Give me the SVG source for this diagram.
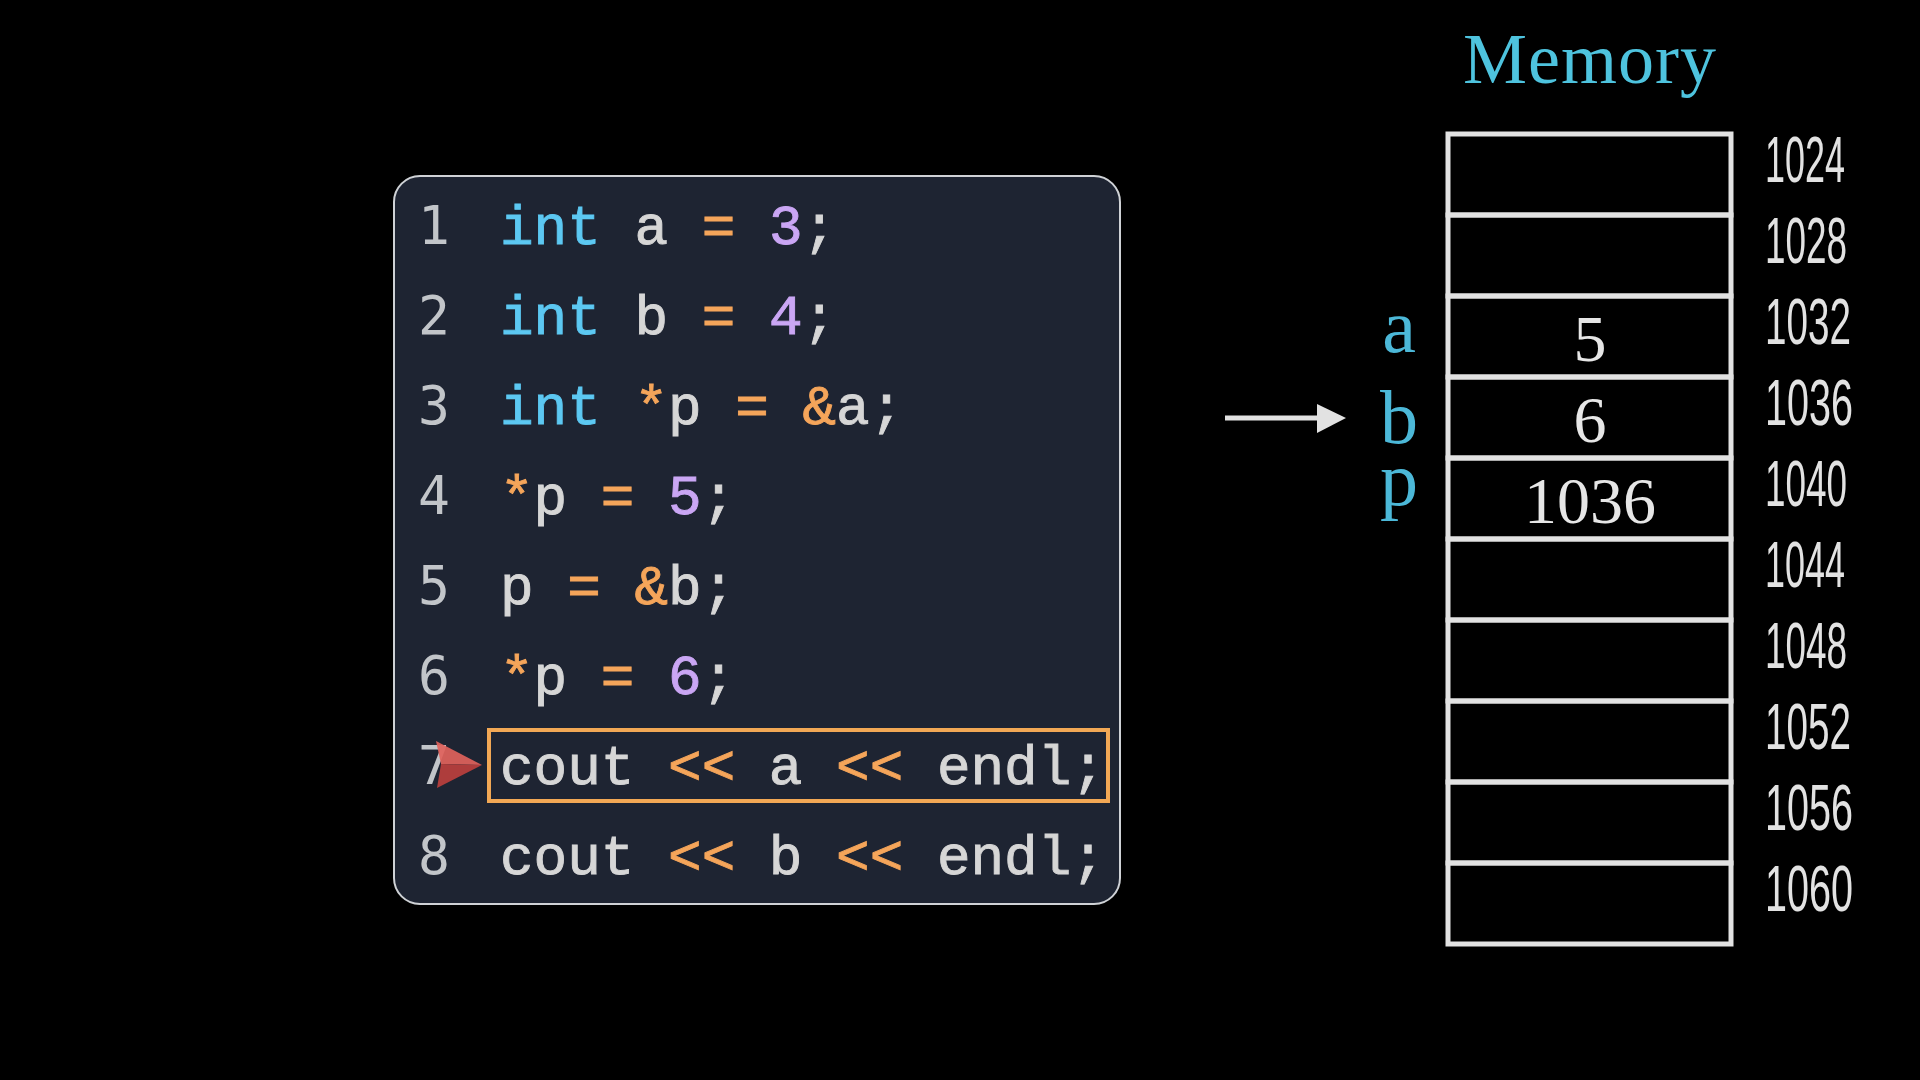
<svg xmlns="http://www.w3.org/2000/svg" width="1920" height="1080" viewBox="0 0 1920 1080">
<defs>
<style>
.num{font-family:"DejaVu Sans Mono","Liberation Mono",monospace;font-size:53px;fill:#c2c5c9;text-anchor:middle}
.code{font-family:"Liberation Mono","DejaVu Sans Mono",monospace;font-size:56px;fill:#d6d6d6;stroke:#d6d6d6;stroke-width:0.9}
.kw{fill:#5cc8f2;stroke:#5cc8f2}
.op{fill:#f5a55a;stroke:#f5a55a}
.lit{fill:#caa6f4;stroke:#caa6f4}
.cell{fill:none;stroke:#e2e2e2;stroke-width:5}
.val{font-family:"Liberation Serif","DejaVu Serif",serif;font-size:66px;fill:#e6e6e6;text-anchor:middle}
.var{font-family:"Liberation Serif","DejaVu Serif",serif;font-size:76px;fill:#4cb8d8;text-anchor:middle}
.addr{font-family:"Liberation Sans","DejaVu Sans",sans-serif;font-size:65px;fill:#e2e2e2}
</style>
</defs>
<rect width="1920" height="1080" fill="#000"/>

<g id="code-panel">
<rect x="394" y="176" width="726" height="728" rx="26" ry="26" fill="#1e2432" stroke="#cfd2d6" stroke-width="2"/>
<text class="num" x="434" y="244">1</text>
<text class="num" x="434" y="334">2</text>
<text class="num" x="434" y="424">3</text>
<text class="num" x="434" y="514">4</text>
<text class="num" x="434" y="604">5</text>
<text class="num" x="434" y="694">6</text>
<text class="num" x="434" y="784">7</text>
<text class="num" x="434" y="874">8</text>

<text class="code" x="500" y="244" xml:space="preserve"><tspan class="kw">int</tspan> a <tspan class="op">=</tspan> <tspan class="lit">3</tspan>;</text>
<text class="code" x="500" y="334" xml:space="preserve"><tspan class="kw">int</tspan> b <tspan class="op">=</tspan> <tspan class="lit">4</tspan>;</text>
<text class="code" x="500" y="424" xml:space="preserve"><tspan class="kw">int</tspan> <tspan class="op">*</tspan>p <tspan class="op">=</tspan> <tspan class="op">&amp;</tspan>a;</text>
<text class="code" x="500" y="514" xml:space="preserve"><tspan class="op">*</tspan>p <tspan class="op">=</tspan> <tspan class="lit">5</tspan>;</text>
<text class="code" x="500" y="604" xml:space="preserve">p <tspan class="op">=</tspan> <tspan class="op">&amp;</tspan>b;</text>
<text class="code" x="500" y="694" xml:space="preserve"><tspan class="op">*</tspan>p <tspan class="op">=</tspan> <tspan class="lit">6</tspan>;</text>
<text class="code" x="500" y="784" xml:space="preserve">cout <tspan class="op">&lt;&lt;</tspan> a <tspan class="op">&lt;&lt;</tspan> endl;</text>
<text class="code" x="500" y="874" xml:space="preserve">cout <tspan class="op">&lt;&lt;</tspan> b <tspan class="op">&lt;&lt;</tspan> endl;</text>

<rect id="current-line" x="489" y="730" width="619" height="71" fill="none" stroke="#f2a855" stroke-width="4"/>
<g id="pc-marker" opacity="0.92">
<polygon points="436,741 482,765 441,764" fill="#e0625c"/>
<polygon points="441,764 482,765 437,788" fill="#bb403d"/>
</g>
</g>

<g id="memory">
<text x="1590" y="83" font-family="Liberation Serif, DejaVu Serif, serif" font-size="72" fill="#4ec3de" text-anchor="middle" letter-spacing="1">Memory</text>
<rect class="cell" x="1448" y="134" width="283" height="81"/>
<rect class="cell" x="1448" y="215" width="283" height="81"/>
<rect class="cell" x="1448" y="296" width="283" height="81"/>
<rect class="cell" x="1448" y="377" width="283" height="81"/>
<rect class="cell" x="1448" y="458" width="283" height="81"/>
<rect class="cell" x="1448" y="539" width="283" height="81"/>
<rect class="cell" x="1448" y="620" width="283" height="81"/>
<rect class="cell" x="1448" y="701" width="283" height="81"/>
<rect class="cell" x="1448" y="782" width="283" height="81"/>
<rect class="cell" x="1448" y="863" width="283" height="81"/>

<text class="val" x="1590" y="361">5</text>
<text class="val" x="1590" y="442">6</text>
<text class="val" x="1590" y="523">1036</text>

<text class="var" x="1399" y="352">a</text>
<text class="var" x="1399" y="443">b</text>
<text class="var" x="1399" y="505">p</text>

<text class="addr" x="1765" y="182" textLength="80" lengthAdjust="spacingAndGlyphs">1024</text>
<text class="addr" x="1765" y="263" textLength="82" lengthAdjust="spacingAndGlyphs">1028</text>
<text class="addr" x="1765" y="344" textLength="86" lengthAdjust="spacingAndGlyphs">1032</text>
<text class="addr" x="1765" y="425" textLength="88" lengthAdjust="spacingAndGlyphs">1036</text>
<text class="addr" x="1765" y="506" textLength="82" lengthAdjust="spacingAndGlyphs">1040</text>
<text class="addr" x="1765" y="587" textLength="80" lengthAdjust="spacingAndGlyphs">1044</text>
<text class="addr" x="1765" y="668" textLength="82" lengthAdjust="spacingAndGlyphs">1048</text>
<text class="addr" x="1765" y="749" textLength="86" lengthAdjust="spacingAndGlyphs">1052</text>
<text class="addr" x="1765" y="830" textLength="88" lengthAdjust="spacingAndGlyphs">1056</text>
<text class="addr" x="1765" y="911" textLength="88" lengthAdjust="spacingAndGlyphs">1060</text>
</g>

<g id="connectors">
<line x1="1225" y1="418" x2="1318" y2="418" stroke="#e2e2e2" stroke-width="5"/>
<polygon points="1317,404 1346,418 1317,433" fill="#e2e2e2"/>
</g>
</svg>
